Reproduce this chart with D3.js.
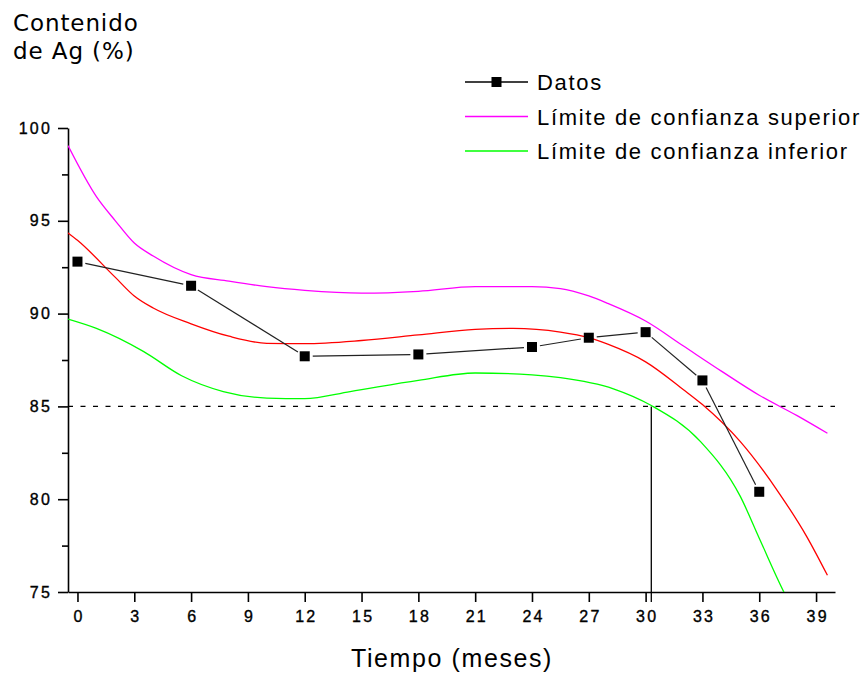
<!DOCTYPE html>
<html>
<head>
<meta charset="utf-8">
<script src="https://cdn.jsdelivr.net/npm/d3@7"></script>
<style>
  body { margin: 0; background: #fff; }
  .tick text { font-family: "Liberation Sans", Arial, sans-serif; font-size: 16px; letter-spacing: 2.2px; fill: #000; stroke: #000; stroke-width: 0.35px; }
  .axis path, .axis line { stroke: #000; stroke-width: 1.6; }
</style>
</head>
<body>
<div class="g-chart"></div>
<script>
// datos medidos
var mesesDatos = [0, 6, 12, 18, 24, 27, 30, 33, 36];
var agDatos = [92.8, 91.5, 87.7, 87.8, 88.2, 88.7, 89.0, 86.4, 80.4];

// curva ajustada (roja)
var mesesAjuste = [-0.5, 0, 2, 3, 4, 6, 8, 10, 12, 15, 18, 21, 23, 25.5, 27, 28, 30, 32, 33, 35, 37, 38.5, 39.6];
var agAjuste = [94.35, 93.95, 91.95, 90.95, 90.3, 89.45, 88.78, 88.4, 88.38, 88.55, 88.85, 89.15, 89.2, 89.0, 88.7, 88.35, 87.4, 85.9, 85.1, 83.1, 80.4, 78.0, 75.9];

// limite superior
var mesesSup = [-0.5, 1, 2, 3, 4, 6, 8, 10, 12, 15, 18, 21, 24, 25.5, 27, 28, 30, 32, 34, 36, 38, 39.6];
var agSup = [99.05, 96.3, 95.0, 93.8, 93.1, 92.1, 91.75, 91.45, 91.25, 91.1, 91.2, 91.45, 91.45, 91.35, 90.95, 90.55, 89.6, 88.25, 86.9, 85.6, 84.5, 83.55];

// limite inferior
var mesesInf = [-0.5, 1, 3.5, 5.5, 7.7, 10, 12, 14.4, 18, 21, 24, 25.5, 28.3, 30.3, 32.9, 35, 36, 37.3, 37.5];
var agInf = [89.7, 89.2, 87.95, 86.65, 85.8, 85.45, 85.42, 85.8, 86.4, 86.8, 86.7, 86.55, 85.95, 85.05, 83.1, 80.15, 77.9, 75.0, 74.6];

var xTicks = [0, 3, 6, 9, 12, 15, 18, 21, 24, 27, 30, 33, 36, 39];
var yTicks = [75, 80, 85, 90, 95, 100];
var yMinor = [77.5, 82.5, 87.5, 92.5, 97.5];
var limite = 85;
var mesLimite = 30.3;

var leyenda = ["Datos", "Límite de confianza superior", "Límite de confianza inferior"];
var coloresLeyenda = ["#000", "#ff00ff", "#00ff00"];

function grafico(){
  var W = 865, H = 675;
  var svg = d3.select(".g-chart").append("svg")
      .attr("width", W)
      .attr("height", H);

  var x = d3.scaleLinear().domain([-0.5, 40]).range([68, 835]);
  var y = d3.scaleLinear().domain([75, 100]).range([592, 128]);

  svg.append("clipPath").attr("id", "area")
    .append("rect")
      .attr("x", x(-0.5)).attr("y", y(100))
      .attr("width", x(40) - x(-0.5)).attr("height", y(75) - y(100));

  // ejes
  svg.append("g").attr("class", "axis")
      .attr("transform", "translate(0," + y(75) + ")")
      .call(d3.axisBottom(x).tickValues(xTicks).tickSize(10).tickSizeOuter(0).tickPadding(9))
      .selectAll("text").attr("dx", "1.1");

  svg.append("g").attr("class", "axis")
      .attr("transform", "translate(" + x(-0.5) + ",0)")
      .call(d3.axisLeft(y).tickValues(yTicks).tickSize(10).tickSizeOuter(0).tickPadding(8))
      .selectAll("text").attr("dx", "2");

  svg.append("g").attr("class", "axis")
      .attr("transform", "translate(" + x(-0.5) + ",0)")
      .call(d3.axisLeft(y).tickValues(yMinor).tickSize(6).tickFormat(""))
      .select(".domain").remove();

  // linea limite 85%
  svg.append("line")
      .attr("x1", x(-0.5)).attr("x2", x(40))
      .attr("y1", y(limite)).attr("y2", y(limite))
      .attr("stroke", "#000").attr("stroke-width", 1.3)
      .attr("stroke-dasharray", "5,7.5");

  svg.append("line")
      .attr("x1", x(mesLimite)).attr("x2", x(mesLimite))
      .attr("y1", y(limite)).attr("y2", y(75) + 10)
      .attr("stroke", "#000").attr("stroke-width", 1.3);

  var linea = d3.line()
      .x(function(d){ return x(d[0]); })
      .y(function(d){ return y(d[1]); })
      .curve(d3.curveMonotoneX);

  var curvas = [
    [mesesSup, agSup, "#ff00ff"],
    [mesesAjuste, agAjuste, "#ff0000"],
    [mesesInf, agInf, "#00ff00"]
  ];
  curvas.forEach(function(c){
    svg.append("path")
      .datum(d3.zip(c[0], c[1]))
      .attr("clip-path", "url(#area)")
      .attr("fill", "none")
      .attr("stroke", c[2])
      .attr("stroke-width", 1.3)
      .attr("d", linea);
  });

  // datos: segmentos con hueco junto a los marcadores
  var pts = d3.zip(mesesDatos, agDatos).map(function(d){ return [x(d[0]), y(d[1])]; });
  var gap = 8;
  d3.pairs(pts).forEach(function(p){
    var dx = p[1][0] - p[0][0], dy = p[1][1] - p[0][1];
    var len = Math.sqrt(dx * dx + dy * dy);
    var ux = dx / len, uy = dy / len;
    svg.append("line")
      .attr("x1", p[0][0] + ux * gap).attr("y1", p[0][1] + uy * gap)
      .attr("x2", p[1][0] - ux * gap).attr("y2", p[1][1] - uy * gap)
      .attr("stroke", "#222").attr("stroke-width", 1.2);
  });
  svg.selectAll(".marca")
    .data(pts)
    .enter().append("rect")
      .attr("class", "marca")
      .attr("x", function(d){ return d[0] - 5; })
      .attr("y", function(d){ return d[1] - 5; })
      .attr("width", 10).attr("height", 10)
      .attr("fill", "#000");

  // titulos
  svg.append("text")
      .attr("x", 13).attr("y", 31)
      .style("font-family", "DejaVu Sans, Verdana, sans-serif")
      .style("font-size", "23px")
      .style("letter-spacing", "0.9px")
      .text("Contenido");
  svg.append("text")
      .attr("x", 13).attr("y", 59)
      .style("font-family", "DejaVu Sans, Verdana, sans-serif")
      .style("font-size", "23px")
      .style("letter-spacing", "0.9px")
      .text("de Ag (%)");

  svg.append("text")
      .attr("x", 452).attr("y", 667)
      .attr("text-anchor", "middle")
      .style("font-family", "Liberation Sans, Arial, sans-serif")
      .style("font-size", "25px")
      .style("letter-spacing", "1.6px")
      .text("Tiempo (meses)");

  // leyenda
  var leg = svg.append("g").selectAll("g")
    .data(leyenda)
    .enter().append("g")
      .attr("transform", function(d, i){ return "translate(465," + (82 + i * 34.5) + ")"; });
  leg.append("line")
      .attr("x1", 0).attr("x2", 63)
      .attr("stroke", function(d, i){ return coloresLeyenda[i]; })
      .attr("stroke-width", function(d, i){ return i ? 1.6 : 1.3; });
  leg.filter(function(d, i){ return i === 0; })
    .append("rect")
      .attr("x", 26.5).attr("y", -5).attr("width", 10).attr("height", 10)
      .attr("fill", "#000");
  leg.append("text")
      .attr("x", 72).attr("y", 8)
      .style("font-family", "Liberation Sans, Arial, sans-serif")
      .style("font-size", "22px")
      .style("letter-spacing", "1.7px")
      .text(function(d){ return d; });
}
grafico();
</script>
</body>
</html>
